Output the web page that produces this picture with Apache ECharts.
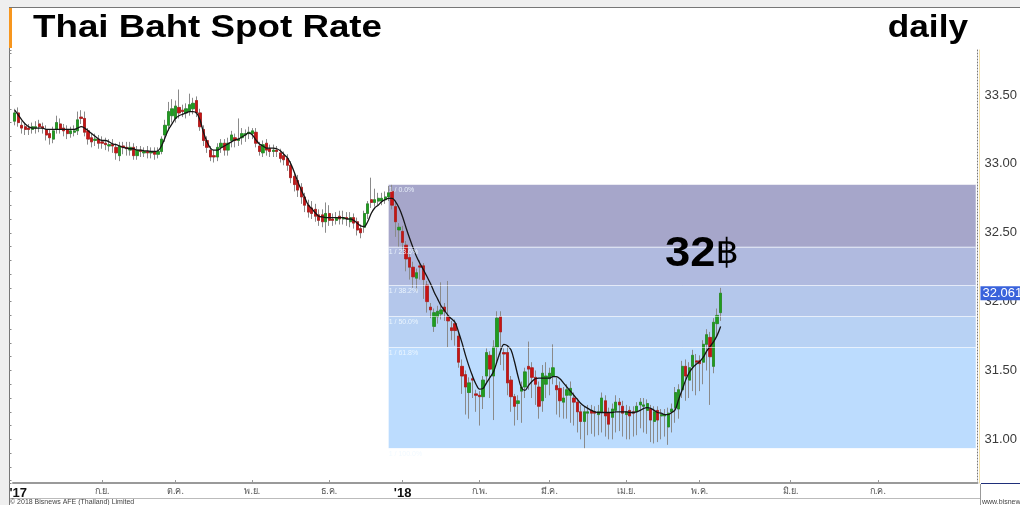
<!DOCTYPE html>
<html><head><meta charset="utf-8">
<script src="https://cdn.jsdelivr.net/npm/echarts@6/dist/echarts.min.js"></script>
<style>
html,body{margin:0;padding:0;background:#efefef;width:1020px;height:505px;overflow:hidden;}
#bg{position:absolute;left:9px;top:7px;width:1011px;height:498px;background:#fff;border-left:1px solid #777;border-top:1px solid #777;}
#c{position:absolute;left:0;top:0;width:1020px;height:505px;}
</style>
</head><body><div id="bg"></div><div id="c"></div>
<script>
// ---- data (USD/THB daily, Aug 2017 - May 2018) ----
const openValues = [33.31,33.37,33.28,33.27,33.26,33.25,33.26,33.29,33.27,33.25,33.22,33.18,33.25,33.29,33.26,33.25,33.22,33.23,33.24,33.34,
33.33,33.24,33.19,33.17,33.18,33.16,33.15,33.13,33.14,33.12,33.06,33.13,33.12,33.10,33.12,33.06,33.10,33.08,33.09,33.08,
33.09,33.07,33.09,33.21,33.28,33.35,33.33,33.41,33.39,33.37,33.38,33.40,33.46,33.37,33.25,33.17,33.10,33.06,33.05,33.12,
33.15,33.10,33.17,33.19,33.17,33.19,33.21,33.22,33.22,33.23,33.13,33.08,33.15,33.11,33.09,33.10,33.08,33.06,33.04,32.99,
32.91,32.88,32.83,32.76,32.70,32.68,32.67,32.63,32.63,32.58,32.64,32.60,32.59,32.62,32.60,32.61,32.58,32.61,32.58,32.53,
32.54,32.64,32.74,32.72,32.73,32.73,32.74,32.76,32.80,32.69,32.52,32.51,32.41,32.32,32.25,32.17,32.26,32.26,32.12,31.96,
31.82,31.89,31.91,31.96,31.89,31.81,31.84,31.75,31.53,31.47,31.34,31.44,31.33,31.32,31.31,31.46,31.61,31.46,31.67,31.89,
31.63,31.63,31.43,31.31,31.26,31.35,31.38,31.53,31.52,31.45,31.38,31.28,31.40,31.44,31.46,31.39,31.37,31.27,31.32,31.32,
31.30,31.27,31.20,31.13,31.19,31.21,31.20,31.18,31.20,31.28,31.19,31.16,31.21,31.27,31.24,31.18,31.21,31.20,31.20,31.25,
31.24,31.21,31.22,31.13,31.21,31.17,31.17,31.09,31.20,31.23,31.22,31.36,31.53,31.43,31.53,31.57,31.57,31.56,31.69,31.74,
31.53,31.84,31.92];
const closeValues = [33.37,33.30,33.26,33.25,33.25,33.27,33.27,33.27,33.26,33.21,33.19,33.24,33.30,33.25,33.24,33.22,33.24,33.24,33.32,33.33,
33.23,33.18,33.16,33.18,33.15,33.15,33.14,33.14,33.13,33.08,33.13,33.12,33.11,33.12,33.06,33.10,33.09,33.09,33.08,33.09,
33.07,33.09,33.18,33.28,33.38,33.40,33.42,33.37,33.38,33.40,33.43,33.44,33.37,33.27,33.17,33.12,33.05,33.05,33.12,33.15,
33.10,33.15,33.21,33.17,33.18,33.22,33.22,33.23,33.24,33.15,33.09,33.14,33.10,33.09,33.10,33.09,33.04,33.03,32.99,32.90,
32.85,32.81,32.76,32.70,32.65,32.64,32.62,32.59,32.58,32.64,32.59,32.59,32.61,32.60,32.61,32.60,32.61,32.57,32.52,32.50,
32.64,32.71,32.72,32.74,32.75,32.75,32.76,32.79,32.70,32.58,32.54,32.43,32.31,32.25,32.18,32.21,32.25,32.16,32.00,31.94,
31.92,31.93,31.94,31.93,31.86,31.79,31.79,31.56,31.46,31.38,31.41,31.43,31.32,31.31,31.43,31.63,31.51,31.67,31.88,31.78,
31.62,31.41,31.31,31.24,31.28,31.38,31.49,31.51,31.45,31.40,31.24,31.48,31.46,31.48,31.52,31.36,31.28,31.30,31.36,31.37,
31.27,31.20,31.13,31.20,31.20,31.19,31.19,31.20,31.30,31.17,31.11,31.22,31.27,31.25,31.19,31.20,31.17,31.19,31.24,31.27,
31.25,31.26,31.14,31.20,31.14,31.18,31.18,31.19,31.22,31.34,31.36,31.53,31.46,31.52,31.61,31.56,31.55,31.69,31.76,31.60,
31.85,31.90,32.061];
const lowValues = [33.28,33.27,33.22,33.21,33.21,33.22,33.22,33.23,33.22,33.17,33.14,33.15,33.22,33.22,33.20,33.18,33.19,33.20,33.21,33.29,
33.20,33.14,33.12,33.13,33.11,33.11,33.10,33.09,33.08,33.03,33.02,33.07,33.06,33.06,33.03,33.03,33.05,33.05,33.04,33.04,
33.03,33.04,33.07,33.16,33.24,33.30,33.30,33.33,33.34,33.33,33.35,33.36,33.34,33.24,33.13,33.08,33.02,33.01,33.02,33.08,
33.06,33.06,33.12,33.12,33.13,33.14,33.16,33.18,33.18,33.12,33.06,33.05,33.06,33.05,33.05,33.05,33.01,32.99,32.95,32.86,
32.80,32.76,32.71,32.65,32.61,32.60,32.58,32.55,32.54,32.50,32.55,32.55,32.56,32.56,32.56,32.55,32.54,32.53,32.48,32.46,
32.50,32.60,32.68,32.69,32.70,32.70,32.71,32.73,32.67,32.47,32.40,32.38,32.22,32.16,32.10,32.08,32.16,32.02,31.92,31.88,
31.78,31.84,31.87,31.86,31.67,31.72,31.68,31.52,31.33,31.18,31.15,31.30,31.20,31.10,31.22,31.40,31.30,31.14,31.55,31.54,
31.50,31.32,31.20,31.10,31.14,31.12,31.30,31.36,31.30,31.25,31.15,31.20,31.30,31.32,31.40,31.18,31.16,31.15,31.15,31.12,
31.10,31.05,31.00,30.935,31.03,31.04,31.02,31.03,31.05,31.02,31.00,31.00,31.05,31.06,31.02,31.00,31.00,31.02,31.03,31.08,
31.05,31.04,30.98,30.97,30.98,31.00,31.02,30.96,31.05,31.12,31.15,31.30,31.28,31.30,31.35,31.32,31.35,31.40,31.50,31.25,
31.48,31.75,31.86];
const highValues = [33.40,33.41,33.31,33.30,33.29,33.30,33.31,33.32,33.30,33.28,33.25,33.27,33.35,33.33,33.29,33.28,33.27,33.28,33.38,33.39,
33.38,33.26,33.22,33.22,33.21,33.20,33.19,33.18,33.18,33.15,33.16,33.16,33.16,33.16,33.15,33.13,33.13,33.12,33.13,33.12,
33.12,33.12,33.20,33.32,33.45,33.47,33.46,33.54,33.43,33.44,33.51,33.48,33.49,33.40,33.28,33.20,33.13,33.10,33.15,33.18,
33.18,33.19,33.24,33.22,33.33,33.26,33.25,33.27,33.26,33.26,33.16,33.17,33.18,33.14,33.14,33.13,33.11,33.09,33.07,33.02,
32.94,32.92,32.86,32.79,32.74,32.73,32.71,32.67,32.67,32.72,32.70,32.64,32.65,32.66,32.66,32.65,32.65,32.64,32.61,32.56,
32.66,32.73,32.90,32.82,32.79,32.79,32.80,32.84,32.85,32.72,32.57,32.55,32.44,32.35,32.29,32.24,32.30,32.28,32.15,31.99,
31.95,31.97,32.14,31.99,32.15,31.86,31.87,31.78,31.58,31.50,31.45,31.47,31.36,31.35,31.46,31.66,31.64,31.72,31.93,31.93,
31.66,31.68,31.46,31.33,31.32,31.42,31.52,31.71,31.56,31.50,31.42,31.54,31.56,31.52,31.69,31.45,31.42,31.38,31.40,31.42,
31.34,31.30,31.25,31.24,31.25,31.25,31.24,31.25,31.34,31.32,31.23,31.26,31.32,31.30,31.28,31.25,31.24,31.24,31.27,31.30,
31.30,31.29,31.25,31.24,31.24,31.22,31.22,31.23,31.26,31.38,31.40,31.57,31.58,31.56,31.65,31.62,31.61,31.72,31.80,31.78,
31.88,31.95,32.10];
const maValues = [33.39,33.355,33.32,33.29,33.27,33.26,33.26,33.26,33.26,33.25,33.25,33.25,33.25,33.25,33.25,33.25,33.25,33.25,33.26,33.27,
33.26,33.24,33.22,33.20,33.18,33.17,33.17,33.16,33.145,33.14,33.13,33.12,33.115,33.11,33.11,33.10,33.10,33.095,33.095,33.09,
33.09,33.095,33.13,33.19,33.25,33.29,33.33,33.35,33.36,33.37,33.38,33.38,33.37,33.32,33.23,33.16,33.115,33.10,33.10,33.115,
33.13,33.145,33.16,33.175,33.18,33.195,33.21,33.225,33.21,33.175,33.145,33.13,33.115,33.115,33.115,33.11,33.095,33.07,33.045,33.00,
32.94,32.87,32.81,32.755,32.70,32.675,32.645,32.62,32.615,32.61,32.61,32.61,32.61,32.61,32.61,32.60,32.60,32.59,32.57,32.55,
32.545,32.58,32.64,32.68,32.70,32.725,32.74,32.75,32.75,32.725,32.68,32.615,32.535,32.46,32.39,32.325,32.275,32.23,32.18,32.13,
32.07,32.02,31.97,31.935,31.90,31.875,31.85,31.78,31.70,31.61,31.53,31.46,31.40,31.365,31.37,31.41,31.45,31.49,31.565,31.64,
31.69,31.68,31.65,31.565,31.46,31.375,31.355,31.39,31.42,31.44,31.445,31.445,31.445,31.445,31.455,31.455,31.44,31.41,31.38,31.35,
31.32,31.29,31.26,31.24,31.225,31.21,31.20,31.195,31.195,31.195,31.195,31.195,31.20,31.20,31.20,31.20,31.195,31.195,31.20,31.21,
31.225,31.23,31.225,31.21,31.195,31.19,31.18,31.18,31.195,31.215,31.29,31.36,31.43,31.485,31.52,31.545,31.565,31.595,31.64,31.675,
31.71,31.755,31.82];

// x axis: trading-day slots (incl. future empty slots) and month ticks
const slotCount = 276;
const monthLabels = ["'17","ก.ย.","ต.ค.","พ.ย.","ธ.ค.","'18","ก.พ.","มี.ค.","เม.ย.","พ.ค.","มิ.ย.","ก.ค."];
const monthStartIdx = [1,25,46,68,90,111,133,153,175,196,222,247];

// Fibonacci retracement
const fibHigh = 32.85, fibLow = 30.935;
const fibRatios = [0, 0.236, 0.382, 0.5, 0.618, 1.0];
const fibLabels = ['1 / 0.0%','1 / 23.6%','1 / 38.2%','1 / 50.0%','1 / 61.8%','1 / 100.0%'];
const fibStartIdx = 107, fibEndIdx = 275;
const fibColors = ['#a6a6ca','#b0badf','#b4c7eb','#b8d2f4','#bcdcfe'];

// y scale
const yMin = 30.683, yMax = 33.827;

// ---- build ----
const categories = Array.from({length: slotCount}, (_, i) => 'd' + i);
const fullData = openValues.map((o, i) => [o, closeValues[i], lowValues[i], highValues[i]]);
const bodyData = openValues.map((o, i) => [o, closeValues[i], Math.min(o, closeValues[i]), Math.max(o, closeValues[i])]);
const fibLevels = fibRatios.map(r => fibHigh - r * (fibHigh - fibLow));
const lastClose = closeValues[closeValues.length - 1];

const bands = [];
for (let k = 0; k < fibLevels.length - 1; k++) {
  bands.push([{xAxis: categories[fibStartIdx], yAxis: fibLevels[k], itemStyle: {color: fibColors[k]}},
              {xAxis: categories[fibEndIdx], yAxis: fibLevels[k + 1]}]);
}
const levelLines = fibLevels.map((lv, k) => [
  {xAxis: categories[fibStartIdx], yAxis: lv, label: {formatter: fibLabels[k]}},
  {xAxis: categories[fibEndIdx], yAxis: lv}
]);

const tickIdx = monthStartIdx.slice(1);
const font = 'Liberation Sans, Arial, sans-serif';

const chart = echarts.init(document.getElementById('c'), null, {renderer: 'canvas'});
chart.setOption({
  backgroundColor: 'transparent',
  animation: false,
  grid: {left: 13, right: 40, top: 50, bottom: 22, containLabel: false},
  xAxis: {
    type: 'category', data: categories, boundaryGap: true,
    axisLine: {lineStyle: {color: '#9a9a9a', width: 2}},
    axisTick: {show: true, inside: true, length: 3, alignWithLabel: true,
      interval: (i) => tickIdx.includes(i), lineStyle: {color: '#999'}},
    axisLabel: {
      interval: (i) => monthStartIdx.includes(i), margin: 4, hideOverlap: false,
      formatter: (v, i) => {
        const k = monthStartIdx.indexOf(i);
        if (k < 0) return '';
        const lab = monthLabels[k];
        return lab.charAt(0) === "'" ? '{y|' + lab + '}' : '{m|' + lab + '}';
      },
      rich: {
        y: {fontSize: 13, fontWeight: 'bold', color: '#111', fontFamily: font},
        m: {fontSize: 9, color: '#555', fontFamily: 'Noto Sans, DejaVu Sans, sans-serif'}
      }
    },
    splitLine: {show: false}
  },
  yAxis: [
    {type: 'value', position: 'right', min: yMin, max: yMax, splitNumber: 5, scale: true,
      axisLine: {show: true, lineStyle: {color: '#777', type: [1, 2]}},
      axisTick: {show: false}, splitLine: {show: false},
      axisLabel: {showMinLabel: false, showMaxLabel: false, margin: 7, fontSize: 13, color: '#3a3a3a',
        fontFamily: font, formatter: v => v.toFixed(2)}},
    {type: 'value', position: 'right', offset: 2, min: yMin, max: yMax,
      axisLine: {show: true, lineStyle: {color: '#f2dfa6'}}, axisTick: {show: false},
      axisLabel: {show: false}, splitLine: {show: false}},
    {type: 'value', position: 'left', offset: 3.5, min: yMin, max: yMax, splitNumber: 30,
      axisLine: {show: true, lineStyle: {color: '#777'}},
      axisTick: {show: true, inside: true, length: 2, lineStyle: {color: '#888'}},
      axisLabel: {show: false}, splitLine: {show: false}}
  ],
  series: [
    {name: 'fib', type: 'line', data: [], z: 1, silent: true,
      markArea: {silent: true, itemStyle: {opacity: 1}, data: bands},
      markLine: {silent: true, symbol: 'none',
        lineStyle: {color: 'rgba(255,255,255,0.55)', width: 1, type: 'solid'},
        label: {show: true, position: 'insideStartBottom', fontSize: 7, color: 'rgba(240,248,255,0.9)', distance: [0, 2], fontFamily: font},
        data: levelLines}},
    {name: 'wick', type: 'candlestick', data: fullData, z: 2, barWidth: 2.6, silent: true,
      itemStyle: {color: 'transparent', color0: 'transparent', borderColor: '#8a8a8a', borderColor0: '#8a8a8a', borderWidth: 1}},
    {name: 'body', type: 'candlestick', data: bodyData, z: 3, barWidth: 2.8, silent: true,
      itemStyle: {color: '#1f9e1f', color0: '#c81414', borderColor: '#1a8a1a', borderColor0: '#b01010', borderWidth: 0.6}},
    {name: 'MA', type: 'line', data: maValues, z: 4, symbol: 'none', smooth: 0.35, silent: true,
      lineStyle: {color: '#151515', width: 1.3},
      markLine: {silent: true, symbol: 'none', lineStyle: {color: 'transparent', width: 0},
        label: {show: true, position: 'end', distance: 3, formatter: () => lastClose.toFixed(3),
          backgroundColor: '#3a63dc', color: '#fff', fontSize: 13, padding: [1, 2, 0, 2], fontFamily: font},
        data: [{yAxis: lastClose}]}}
  ],
  graphic: [
    {type: 'rect', left: 9, top: 8, z: 100, shape: {width: 3, height: 40}, style: {fill: '#f7961e'}},
    {type: 'text', left: 33, top: 12, z: 100, scaleX: 1.148, originX: 0,
      style: {text: 'Thai Baht Spot Rate', font: 'bold 32px Liberation Sans, Arial, sans-serif', fill: '#000'}},
    {type: 'text', right: 52, top: 12, z: 100, scaleX: 1.1,
      style: {text: 'daily', font: 'bold 32px Liberation Sans, Arial, sans-serif', fill: '#000'}},
    {type: 'text', left: 665, top: 233, z: 100, scaleX: 1.08,
      style: {text: '{a|32}{b|฿}', rich: {
        a: {fontSize: 42, fontWeight: 'bold', fontFamily: font, color: '#000'},
        b: {fontSize: 34, fontFamily: 'DejaVu Sans, Noto Sans, sans-serif', color: '#000'}}}},
    {type: 'line', z: 100, shape: {x1: 10, y1: 498.5, x2: 980, y2: 498.5}, style: {stroke: '#bbb', lineWidth: 1}},
    {type: 'line', z: 100, shape: {x1: 980.5, y1: 484, x2: 980.5, y2: 505}, style: {stroke: '#999', lineWidth: 1}},
    {type: 'line', z: 100, shape: {x1: 981, y1: 483.5, x2: 1020, y2: 483.5}, style: {stroke: '#1f2f7a', lineWidth: 1}},
    {type: 'text', left: 10, top: 499, z: 100, style: {text: '© 2018 Bisnews AFE (Thailand) Limited', font: '7px Liberation Sans, Arial, sans-serif', fill: '#444'}},
    {type: 'text', left: 982, top: 499, z: 100, style: {text: 'www.bisnews.com', font: '7px Liberation Sans, Arial, sans-serif', fill: '#444'}}
  ]
});
</script>
</body></html>
